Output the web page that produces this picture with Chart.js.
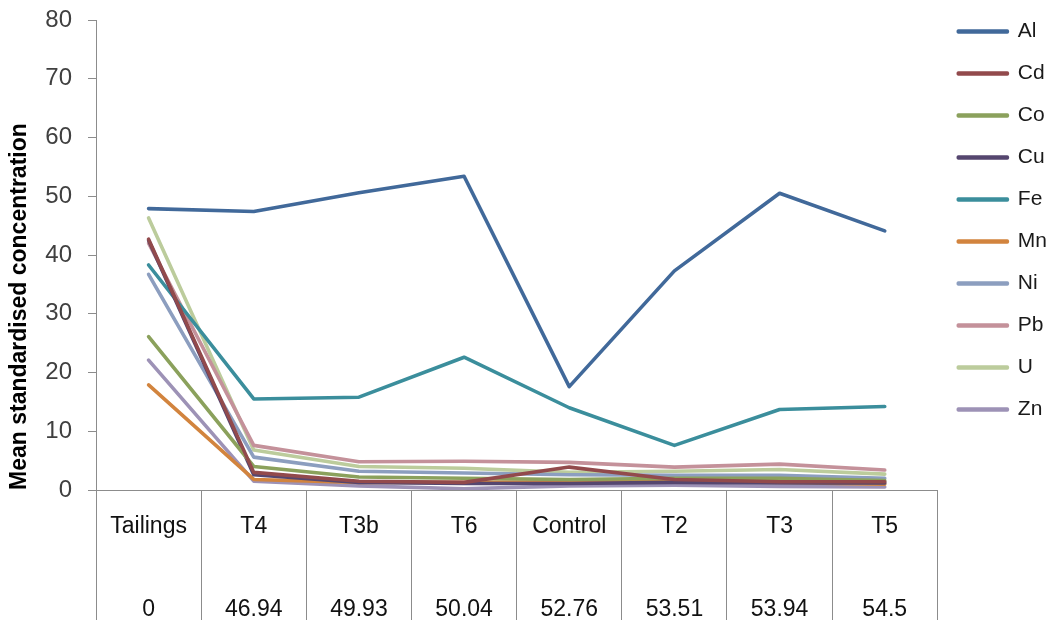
<!DOCTYPE html>
<html><head><meta charset="utf-8">
<script src="https://cdn.jsdelivr.net/npm/chart.js@4.4.0/dist/chart.umd.min.js"></script>
<style>html,body{margin:0;padding:0;background:#fff;overflow:hidden}canvas{display:block}</style>
</head><body>
<canvas id="c" width="1054" height="620"></canvas>
<script>
const sites = ["Tailings", "T4", "T3b", "T6", "Control", "T2", "T3", "T5"];
const siteValues = ["0", "46.94", "49.93", "50.04", "52.76", "53.51", "53.94", "54.5"];

const Al = [47.9, 47.4, 50.6, 53.4, 17.6, 37.3, 50.5, 44.1];
const Cd = [42.7, 3.0, 1.5, 1.3, 3.9, 1.8, 1.4, 1.4];
const Co = [26.1, 4.0, 2.2, 2.0, 1.8, 2.0, 2.0, 1.6];
const Cu = [42.5, 2.6, 1.3, 1.1, 1.1, 1.3, 1.2, 1.2];
const Fe = [38.3, 15.5, 15.8, 22.6, 14.0, 7.6, 13.7, 14.2];
const Mn = [17.9, 1.8, 1.3, 1.3, 1.4, 1.5, 1.3, 1.0];
const Ni = [36.7, 5.6, 3.2, 2.9, 2.6, 2.5, 2.5, 2.0];
const Pb = [42.0, 7.6, 4.8, 4.9, 4.7, 3.9, 4.4, 3.4];
const U  = [46.3, 6.8, 4.0, 3.7, 3.0, 3.2, 3.5, 2.7];
const Zn = [22.1, 1.5, 0.7, 0.2, 0.7, 0.8, 0.6, 0.5];

const seriesNames = ["Al", "Cd", "Co", "Cu", "Fe", "Mn", "Ni", "Pb", "U", "Zn"];
const seriesData = [Al, Cd, Co, Cu, Fe, Mn, Ni, Pb, U, Zn];
const colors = ["#41699A", "#924A4C", "#8BA15C", "#55466F", "#3B8E9C", "#D2843E", "#8C9EBF", "#C4919A", "#BCCC9C", "#9D92B6"];

const yMin = 0, yMax = 80, yStep = 10;
const yTitle = "Mean standardised concentration";

const FONT = "'Liberation Sans', Arial, sans-serif";
const axisColor = "#8c8c8c";

const datasets = seriesNames.map((name, i) => ({
  label: name,
  data: seriesData[i],
  borderColor: colors[i],
  backgroundColor: colors[i],
  borderWidth: 3.6,
  pointRadius: 0,
  pointHoverRadius: 0,
  tension: 0,
  borderJoinStyle: 'round',
  borderCapStyle: 'round'
}));

new Chart(document.getElementById('c'), {
  type: 'line',
  data: { labels: sites, datasets },
  options: {
    responsive: false,
    animation: false,
    devicePixelRatio: 1,
    layout: { padding: { left: 2, right: -3, top: 0, bottom: 0 } },
    plugins: {
      tooltip: { enabled: false },
      legend: {
        position: 'right',
        align: 'start',
        labels: {
          boxWidth: 49,
          boxHeight: 1,
          padding: 21,
          color: '#1a1a1a',
          font: { size: 21, family: FONT }
        }
      }
    },
    scales: {
      x: {
        offset: true,
        grid: { offset: true, drawOnChartArea: false, drawTicks: true, tickLength: 130, color: axisColor, lineWidth: 1 },
        border: { display: true, color: axisColor, width: 1 },
        ticks: {
          autoSkip: false, maxRotation: 0, minRotation: 0,
          padding: -134.5,
          color: '#111',
          font: { size: 23, family: FONT, lineHeight: '83px' },
          callback: (v, i) => [sites[i], siteValues[i]]
        },
        afterFit(s) { s.height = 130; }
      },
      x2: {
        type: 'category',
        labels: sites,
        position: 'top',
        display: true,
        grid: { display: false },
        ticks: { display: false },
        border: { display: false },
        afterFit(s) { s.height = 20; }
      },
      y: {
        min: yMin, max: yMax,
        ticks: { stepSize: yStep, color: '#404040', padding: 16, font: { size: 24, family: FONT } },
        grid: { drawOnChartArea: false, drawTicks: true, tickLength: 8, color: axisColor },
        border: { display: true, color: axisColor, width: 1 },
        title: {
          display: true, text: yTitle, align: 'start', color: '#000',
          padding: { top: 4, bottom: 4 },
          font: { size: 23, weight: 'bold', family: FONT }
        },
        afterFit(s) { s.width = 94; s.paddingTop = 10; s.paddingBottom = 10; }
      }
    }
  }
});
</script>
</body></html>
